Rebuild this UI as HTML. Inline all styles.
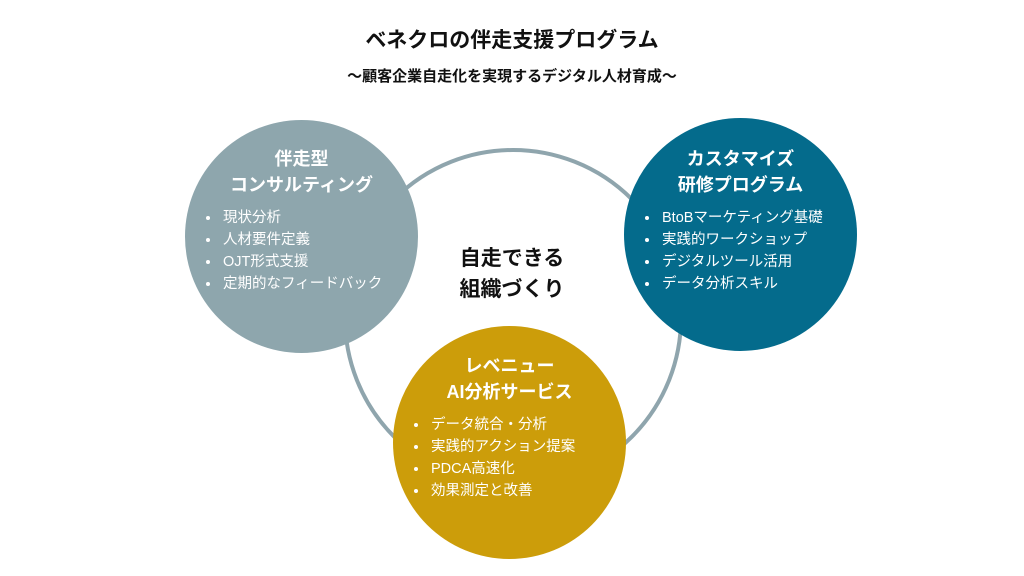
<!DOCTYPE html>
<html><head><meta charset="utf-8"><style>
body{margin:0;width:1024px;height:576px;background:#fff;position:relative;overflow:hidden;font-family:"Liberation Sans","Noto Sans CJK JP",sans-serif;}
.t{position:absolute;left:0;width:1024px;text-align:center;font-weight:bold;color:#111;}
.c{position:absolute;border-radius:50%;color:#fff;}
.h{position:absolute;left:0;right:0;text-align:center;font-weight:bold;font-size:18px;line-height:26px;}
ul{position:absolute;margin:0;padding:0 0 0 18px;font-size:14.5px;line-height:22px;}
li{padding-left:2px}
</style></head><body>
<div class="t" style="top:24px;font-size:21px">ベネクロの伴走支援プログラム</div>
<div class="t" style="top:65px;font-size:15px">〜顧客企業自走化を実現するデジタル人材育成〜</div>
<svg width="1024" height="576" style="position:absolute;left:0;top:0"><circle cx="513" cy="318" r="168" fill="none" stroke="#8fa5ad" stroke-width="4"/></svg>
<div class="t" style="top:243px;font-size:21px;line-height:31px;left:0">自走できる<br>組織づくり</div>
<div class="c" style="left:185px;top:120px;width:233px;height:233px;background:#8ea6ad">
<div class="h" style="top:26px">伴走型<br>コンサルティング</div>
<ul style="left:18px;top:87px"><li>現状分析</li><li>人材要件定義</li><li>OJT形式支援</li><li>定期的なフィードバック</li></ul></div>
<div class="c" style="left:624px;top:118px;width:233px;height:233px;background:#046b8c">
<div class="h" style="top:28px">カスタマイズ<br>研修プログラム</div>
<ul style="left:18px;top:89px"><li>BtoBマーケティング基礎</li><li>実践的ワークショップ</li><li>デジタルツール活用</li><li>データ分析スキル</li></ul></div>
<div class="c" style="left:393px;top:326px;width:233px;height:233px;background:#cc9d0a">
<div class="h" style="top:27px">レベニュー<br>AI分析サービス</div>
<ul style="left:18px;top:88px"><li>データ統合・分析</li><li>実践的アクション提案</li><li>PDCA高速化</li><li>効果測定と改善</li></ul></div>
</body></html>
